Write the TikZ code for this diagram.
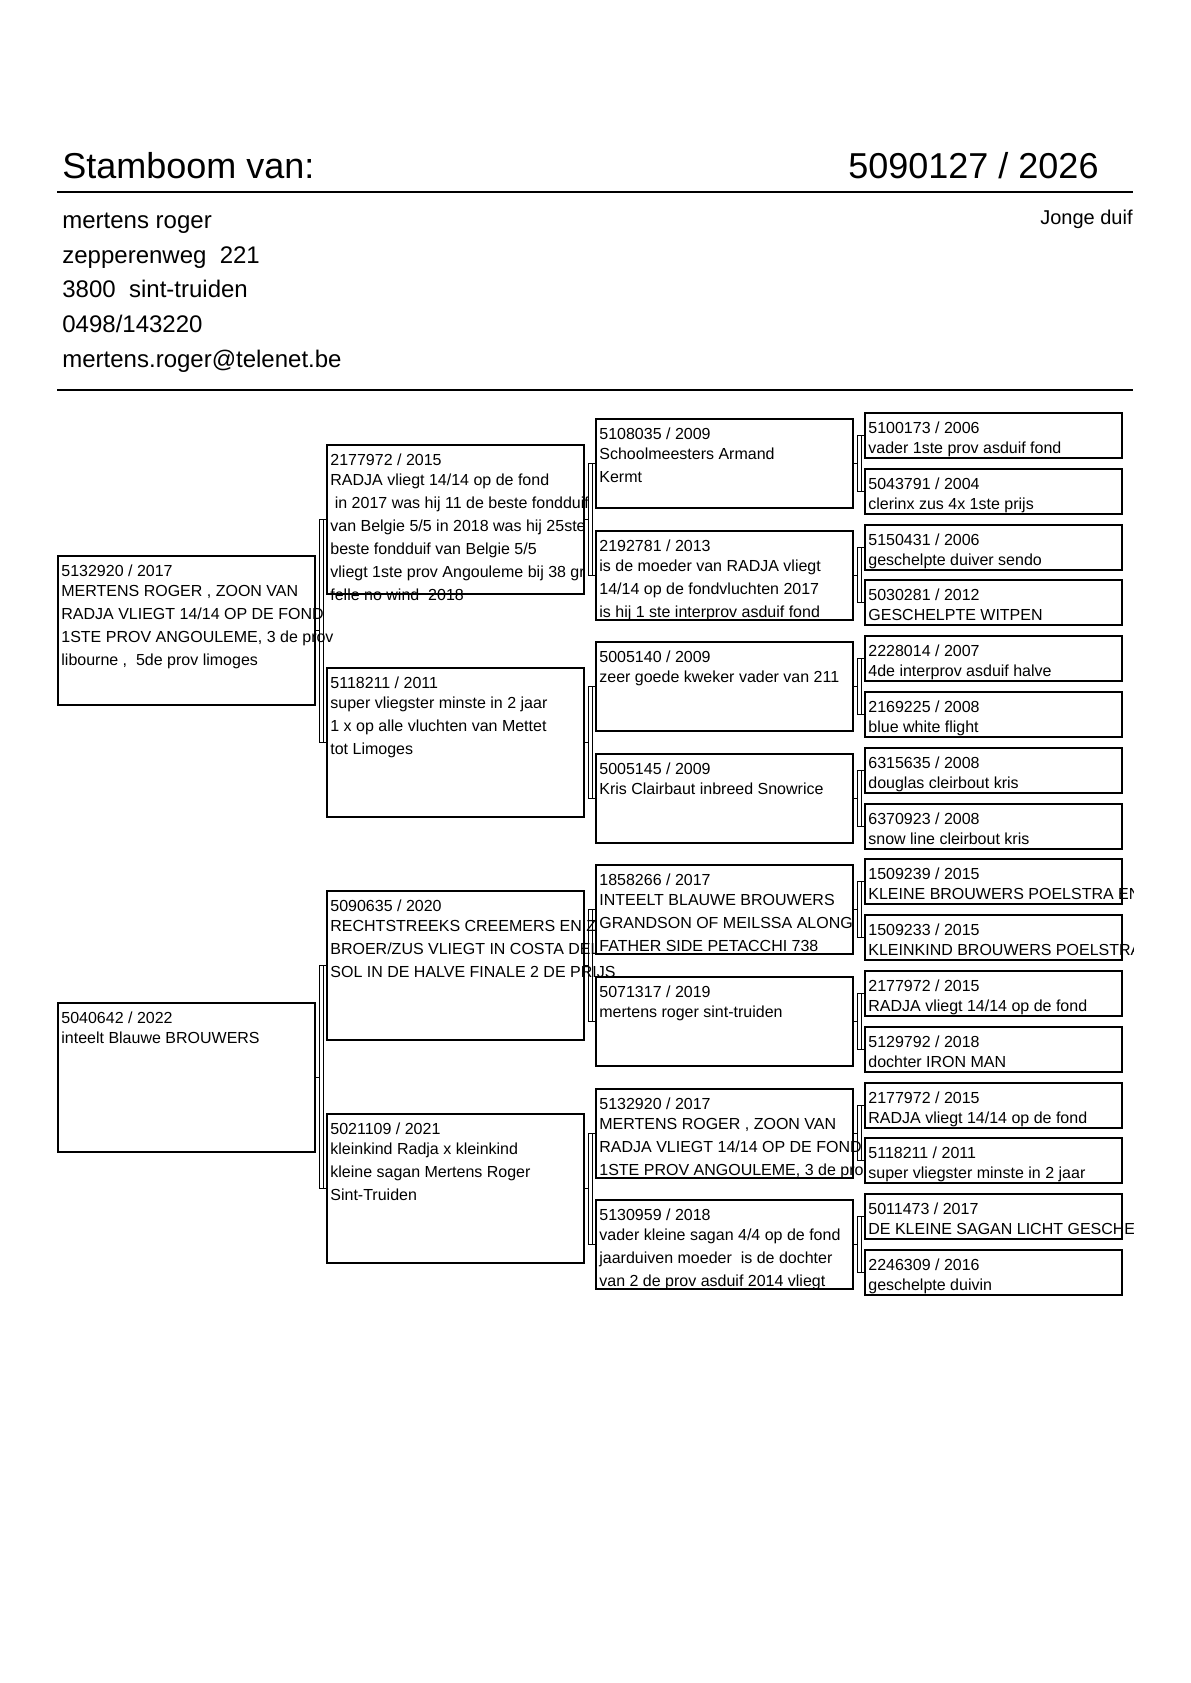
\documentclass[tikz,border=0pt]{standalone}
\usepackage{fontspec}
\setmainfont{Liberation Sans}

\begin{document}
\begin{tikzpicture}[x=0.5pt,y=-0.5pt,
  duif/.style={draw,fill=white,line width=1pt,anchor=north west,minimum width=128.5pt,inner sep=0pt},
  gen1/.style={duif,minimum height=74.5pt},
  gen2/.style={duif,minimum height=74.5pt},
  gen3/.style={duif,minimum height=44.5pt},
  gen4/.style={duif,minimum height=22.5pt},
  txt/.style={anchor=north west,xshift=2pt,yshift=-4.7pt,inner sep=0pt,align=left,font=\fontsize{8pt}{11.5pt}\selectfont},
  link/.style={line width=0.5pt},
  kop/.style={line width=1pt}]
\useasboundingbox (0,0) rectangle (1190,1683);

% kop
\node[anchor=base west,inner sep=0pt,font=\fontsize{18pt}{20pt}\selectfont] (titel) at (62,178) {Stamboom van:};
\node[anchor=base east,inner sep=0pt,font=\fontsize{18pt}{20pt}\selectfont] (ringnr) at (1099,178) {5090127 / 2026};
\draw[kop] (57,192) -- (1133,192);
\node[anchor=north west,inner sep=0pt,align=left,font=\fontsize{12pt}{17.35pt}\selectfont] (adres) at (62,208) {\rule{0pt}{10pt}mertens roger\\zepperenweg\ \ 221\\3800\ \ sint-truiden\\0498/143220\\mertens.roger@telenet.be};
\node[anchor=base east,inner sep=0pt,font=\fontsize{10pt}{12pt}\selectfont] (soort) at (1133,224) {Jonge duif};
\draw[kop] (57,390) -- (1133,390);

% ouders
\node[gen1] (v) at (57,555.3) {};
\node[txt] (vt) at (v.north west) {5132920 / 2017\\[-1.5pt]MERTENS ROGER , ZOON VAN\\RADJA VLIEGT 14/14 OP DE FOND\\1STE PROV ANGOULEME, 3 de prov\\libourne ,\ \ 5de prov limoges};
\node[gen1] (m) at (57,1001.7) {};
\node[txt] (mt) at (m.north west) {5040642 / 2022\\[-1.5pt]inteelt Blauwe BROUWERS};

% grootouders
\node[gen2] (vv) at (326,443.7) {};
\node[txt] (vvt) at (vv.north west) {2177972 / 2015\\[-1.5pt]RADJA vliegt 14/14 op de fond\\\ in 2017 was hij 11 de beste fondduif\\van Belgie 5/5 in 2018 was hij 25ste\\beste fondduif van Belgie 5/5\\vliegt 1ste prov Angouleme bij 38 gr\\felle no wind\ \ 2018};
\node[gen2] (vm) at (326,666.9) {};
\node[txt] (vmt) at (vm.north west) {5118211 / 2011\\[-1.5pt]super vliegster minste in 2 jaar\\1 x op alle vluchten van Mettet\\tot Limoges};
\node[gen2] (mv) at (326,890.1) {};
\node[txt] (mvt) at (mv.north west) {5090635 / 2020\\[-1.5pt]RECHTSTREEKS CREEMERS EN Z\\BROER/ZUS VLIEGT IN COSTA DEL\\SOL IN DE HALVE FINALE 2 DE PRIJS};
\node[gen2] (mm) at (326,1113.3) {};
\node[txt] (mmt) at (mm.north west) {5021109 / 2021\\[-1.5pt]kleinkind Radja x kleinkind\\kleine sagan Mertens Roger\\Sint-Truiden};

% overgrootouders
\node[gen3] (vvv) at (595,418) {};
\node[txt] (vvvt) at (vvv.north west) {5108035 / 2009\\[-1.5pt]Schoolmeesters Armand\\Kermt};
\node[gen3] (vvm) at (595,529.6) {};
\node[txt] (vvmt) at (vvm.north west) {2192781 / 2013\\[-1.5pt]is de moeder van RADJA vliegt\\14/14 op de fondvluchten 2017\\is hij 1 ste interprov asduif fond};
\node[gen3] (vmv) at (595,641.2) {};
\node[txt] (vmvt) at (vmv.north west) {5005140 / 2009\\[-1.5pt]zeer goede kweker vader van 211};
\node[gen3] (vmm) at (595,752.8) {};
\node[txt] (vmmt) at (vmm.north west) {5005145 / 2009\\[-1.5pt]Kris Clairbaut inbreed Snowrice};
\node[gen3] (mvv) at (595,864.4) {};
\node[txt] (mvvt) at (mvv.north west) {1858266 / 2017\\[-1.5pt]INTEELT BLAUWE BROUWERS\\GRANDSON OF MEILSSA ALONG\\FATHER SIDE PETACCHI 738};
\node[gen3] (mvm) at (595,976) {};
\node[txt] (mvmt) at (mvm.north west) {5071317 / 2019\\[-1.5pt]mertens roger sint-truiden};
\node[gen3] (mmv) at (595,1087.6) {};
\node[txt] (mmvt) at (mmv.north west) {5132920 / 2017\\[-1.5pt]MERTENS ROGER , ZOON VAN\\RADJA VLIEGT 14/14 OP DE FOND\\1STE PROV ANGOULEME, 3 de pro};
\node[gen3] (mmm) at (595,1199.2) {};
\node[txt] (mmmt) at (mmm.north west) {5130959 / 2018\\[-1.5pt]vader kleine sagan 4/4 op de fond\\jaarduiven moeder\ \ is de dochter\\van 2 de prov asduif 2014 vliegt};

% betovergrootouders
\node[gen4] (vvvv) at (864,412) {};
\node[gen4] (vvvm) at (864,467.8) {};
\node[gen4] (vvmv) at (864,523.6) {};
\node[gen4] (vvmm) at (864,579.4) {};
\node[gen4] (vmvv) at (864,635.2) {};
\node[gen4] (vmvm) at (864,691) {};
\node[gen4] (vmmv) at (864,746.8) {};
\node[gen4] (vmmm) at (864,802.6) {};
\node[gen4] (mvvv) at (864,858.4) {};
\node[gen4] (mvvm) at (864,914.2) {};
\node[gen4] (mvmv) at (864,970) {};
\node[gen4] (mvmm) at (864,1025.8) {};
\node[gen4] (mmvv) at (864,1081.6) {};
\node[gen4] (mmvm) at (864,1137.4) {};
\node[gen4] (mmmv) at (864,1193.2) {};
\node[gen4] (mmmm) at (864,1249) {};
\begin{scope}
\clip (0,0) rectangle (1133,1683);
\node[txt] (vvvvt) at (vvvv.north west) {5100173 / 2006\\[-1.5pt]vader 1ste prov asduif fond};
\node[txt] (vvvmt) at (vvvm.north west) {5043791 / 2004\\[-1.5pt]clerinx zus 4x 1ste prijs};
\node[txt] (vvmvt) at (vvmv.north west) {5150431 / 2006\\[-1.5pt]geschelpte duiver sendo};
\node[txt] (vvmmt) at (vvmm.north west) {5030281 / 2012\\[-1.5pt]GESCHELPTE WITPEN};
\node[txt] (vmvvt) at (vmvv.north west) {2228014 / 2007\\[-1.5pt]4de interprov asduif halve};
\node[txt] (vmvmt) at (vmvm.north west) {2169225 / 2008\\[-1.5pt]blue white flight};
\node[txt] (vmmvt) at (vmmv.north west) {6315635 / 2008\\[-1.5pt]douglas cleirbout kris};
\node[txt] (vmmmt) at (vmmm.north west) {6370923 / 2008\\[-1.5pt]snow line cleirbout kris};
\node[txt] (mvvvt) at (mvvv.north west) {1509239 / 2015\\[-1.5pt]KLEINE BROUWERS POELSTRA EN};
\node[txt] (mvvmt) at (mvvm.north west) {1509233 / 2015\\[-1.5pt]KLEINKIND BROUWERS POELSTRA};
\node[txt] (mvmvt) at (mvmv.north west) {2177972 / 2015\\[-1.5pt]RADJA vliegt 14/14 op de fond};
\node[txt] (mvmmt) at (mvmm.north west) {5129792 / 2018\\[-1.5pt]dochter IRON MAN};
\node[txt] (mmvvt) at (mmvv.north west) {2177972 / 2015\\[-1.5pt]RADJA vliegt 14/14 op de fond};
\node[txt] (mmvmt) at (mmvm.north west) {5118211 / 2011\\[-1.5pt]super vliegster minste in 2 jaar};
\node[txt] (mmmvt) at (mmmv.north west) {5011473 / 2017\\[-1.5pt]DE KLEINE SAGAN LICHT GESCHE};
\node[txt] (mmmmt) at (mmmm.north west) {2246309 / 2016\\[-1.5pt]geschelpte duivin};
\end{scope}

% verbindingen
\draw[link] (v.east) -- ([xshift=-3.5pt]vv.west |- v.east) (vv.west) -- ++(-3.5pt,0) |- (vm.west) ([xshift=-1.5pt]vv.west) -- ([xshift=-1.5pt]vm.west);
\draw[link] (m.east) -- ([xshift=-3.5pt]mv.west |- m.east) (mv.west) -- ++(-3.5pt,0) |- (mm.west) ([xshift=-1.5pt]mv.west) -- ([xshift=-1.5pt]mm.west);
\draw[link] (vv.east) -- ([xshift=-3.5pt]vvv.west |- vv.east) (vvv.west) -- ++(-3.5pt,0) |- (vvm.west) ([xshift=-1.5pt]vvv.west) -- ([xshift=-1.5pt]vvm.west);
\draw[link] (vm.east) -- ([xshift=-3.5pt]vmv.west |- vm.east) (vmv.west) -- ++(-3.5pt,0) |- (vmm.west) ([xshift=-1.5pt]vmv.west) -- ([xshift=-1.5pt]vmm.west);
\draw[link] (mv.east) -- ([xshift=-3.5pt]mvv.west |- mv.east) (mvv.west) -- ++(-3.5pt,0) |- (mvm.west) ([xshift=-1.5pt]mvv.west) -- ([xshift=-1.5pt]mvm.west);
\draw[link] (mm.east) -- ([xshift=-3.5pt]mmv.west |- mm.east) (mmv.west) -- ++(-3.5pt,0) |- (mmm.west) ([xshift=-1.5pt]mmv.west) -- ([xshift=-1.5pt]mmm.west);
\draw[link] (vvv.east) -- ([xshift=-3.5pt]vvvv.west |- vvv.east) (vvvv.west) -- ++(-3.5pt,0) |- (vvvm.west) ([xshift=-1.5pt]vvvv.west) -- ([xshift=-1.5pt]vvvm.west);
\draw[link] (vvm.east) -- ([xshift=-3.5pt]vvmv.west |- vvm.east) (vvmv.west) -- ++(-3.5pt,0) |- (vvmm.west) ([xshift=-1.5pt]vvmv.west) -- ([xshift=-1.5pt]vvmm.west);
\draw[link] (vmv.east) -- ([xshift=-3.5pt]vmvv.west |- vmv.east) (vmvv.west) -- ++(-3.5pt,0) |- (vmvm.west) ([xshift=-1.5pt]vmvv.west) -- ([xshift=-1.5pt]vmvm.west);
\draw[link] (vmm.east) -- ([xshift=-3.5pt]vmmv.west |- vmm.east) (vmmv.west) -- ++(-3.5pt,0) |- (vmmm.west) ([xshift=-1.5pt]vmmv.west) -- ([xshift=-1.5pt]vmmm.west);
\draw[link] (mvv.east) -- ([xshift=-3.5pt]mvvv.west |- mvv.east) (mvvv.west) -- ++(-3.5pt,0) |- (mvvm.west) ([xshift=-1.5pt]mvvv.west) -- ([xshift=-1.5pt]mvvm.west);
\draw[link] (mvm.east) -- ([xshift=-3.5pt]mvmv.west |- mvm.east) (mvmv.west) -- ++(-3.5pt,0) |- (mvmm.west) ([xshift=-1.5pt]mvmv.west) -- ([xshift=-1.5pt]mvmm.west);
\draw[link] (mmv.east) -- ([xshift=-3.5pt]mmvv.west |- mmv.east) (mmvv.west) -- ++(-3.5pt,0) |- (mmvm.west) ([xshift=-1.5pt]mmvv.west) -- ([xshift=-1.5pt]mmvm.west);
\draw[link] (mmm.east) -- ([xshift=-3.5pt]mmmv.west |- mmm.east) (mmmv.west) -- ++(-3.5pt,0) |- (mmmm.west) ([xshift=-1.5pt]mmmv.west) -- ([xshift=-1.5pt]mmmm.west);
\end{tikzpicture}
\end{document}
